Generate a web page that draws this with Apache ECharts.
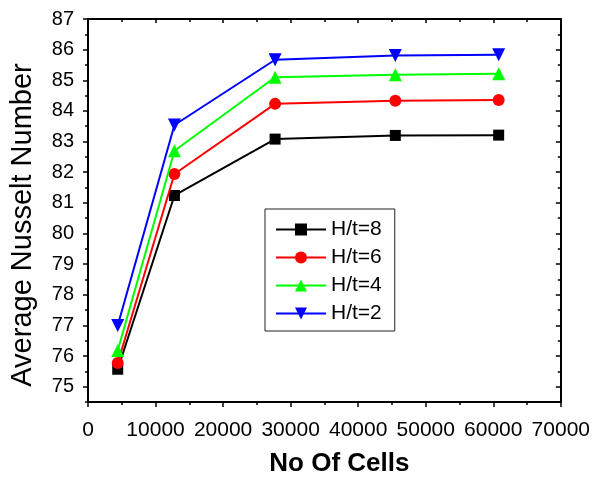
<!DOCTYPE html>
<html>
<head>
<meta charset="utf-8">
<script src="https://cdn.jsdelivr.net/npm/echarts@6/dist/echarts.min.js"></script>
<style>
html,body{margin:0;padding:0;background:#fff;}
#chart{width:593px;height:482px;}
</style>
</head>
<body>
<div id="chart"></div>
<script>
const cells = [4400, 12800, 27700, 45500, 60800];
const seriesNames = ['H/t=8', 'H/t=6', 'H/t=4', 'H/t=2'];
const ht8 = [75.57, 81.24, 83.08, 83.20, 83.21];
const ht6 = [75.77, 81.94, 84.23, 84.33, 84.36];
const ht4 = [76.18, 82.70, 85.10, 85.18, 85.21];
const ht2 = [77.00, 83.54, 85.67, 85.81, 85.83];
const yTickLabels = [75, 76, 77, 78, 79, 80, 81, 82, 83, 84, 85, 86, 87];
const yMinorTicks = [74.5, 75.5, 76.5, 77.5, 78.5, 79.5, 80.5, 81.5, 82.5, 83.5, 84.5, 85.5, 86.5];
const xTickLabels = [0, 10000, 20000, 30000, 40000, 50000, 60000, 70000];

const FONT = 'Liberation Sans, Arial, sans-serif';
const chart = echarts.init(document.getElementById('chart'), null, {renderer: 'canvas'});

function pairs(ys) { return cells.map((x, i) => [x, ys[i]]); }

const yMin = 74.5, yMax = 87;
const lineStyle = {color: '#000', width: 2};

const option = {
  backgroundColor: '#fff',
  animation: false,
  grid: {left: 88, top: 19, right: 30, bottom: 74, containLabel: false},
  legend: {
    orient: 'vertical',
    left: 265, top: 209,
    padding: [10, 13, 7, 10],
    itemWidth: 50, itemHeight: 15, itemGap: 7,
    borderColor: '#222', borderWidth: 1,
    textStyle: {fontFamily: FONT, fontSize: 21, color: '#000'},
    data: seriesNames
  },
  xAxis: [
    {
      type: 'value', position: 'bottom', min: xTickLabels[0], max: xTickLabels[xTickLabels.length - 1], interval: 10000,
      name: 'No Of Cells', nameLocation: 'middle', nameGap: 49,
      nameTextStyle: {fontFamily: FONT, fontSize: 26, fontWeight: 'bold', color: '#000', padding: [0, 0, 0, 30]},
      axisLine: {show: true, lineStyle: lineStyle},
      axisTick: {show: true, inside: false, length: 5, lineStyle: {color: '#000', width: 1.5}},
      minorTick: {show: true, splitNumber: 2, length: 3, lineStyle: {color: '#000', width: 1.5}},
      axisLabel: {fontFamily: FONT, fontSize: 21, color: '#000', margin: 18, formatter: v => String(v)},
      splitLine: {show: false}
    },
    {
      type: 'value', position: 'top', min: 0, max: 70000, interval: 10000,
      axisLine: {show: true, lineStyle: lineStyle},
      axisTick: {show: true, inside: true, length: 4, lineStyle: {color: '#000', width: 1.5}},
      minorTick: {show: true, splitNumber: 2, length: 3, lineStyle: {color: '#000', width: 1.5}},
      axisLabel: {show: false},
      splitLine: {show: false}
    }
  ],
  yAxis: [
    {
      type: 'value', position: 'left', min: yMin, max: yMax,
      name: 'Average Nusselt Number', nameLocation: 'middle', nameGap: 51, nameRotate: 90,
      nameTextStyle: {fontFamily: FONT, fontSize: 29, color: '#000', padding: [0, 29, 0, 0]},
      axisLine: {show: true, lineStyle: lineStyle},
      axisTick: {show: true, inside: false, length: 5, customValues: yTickLabels, lineStyle: {color: '#000', width: 1.5}},
      axisLabel: {fontFamily: FONT, fontSize: 20, color: '#000', margin: 14, customValues: yTickLabels},
      splitLine: {show: false}
    },
    {
      type: 'value', position: 'left', min: yMin, max: yMax,
      axisLine: {show: false},
      axisTick: {show: true, inside: false, length: 3, customValues: yMinorTicks, lineStyle: {color: '#000', width: 1.5}},
      axisLabel: {show: false},
      splitLine: {show: false}
    },
    {
      type: 'value', position: 'right', min: yMin, max: yMax,
      axisLine: {show: true, lineStyle: lineStyle},
      axisTick: {show: true, inside: true, length: 5, customValues: yTickLabels, lineStyle: {color: '#000', width: 1.5}},
      axisLabel: {show: false},
      splitLine: {show: false}
    },
    {
      type: 'value', position: 'right', min: yMin, max: yMax,
      axisLine: {show: false},
      axisTick: {show: true, inside: true, length: 3, customValues: yMinorTicks, lineStyle: {color: '#000', width: 1.5}},
      axisLabel: {show: false},
      splitLine: {show: false}
    }
  ],
  series: [
    {name: seriesNames[0], type: 'line', data: pairs(ht8), symbol: 'rect', symbolSize: 11,
     itemStyle: {color: '#000'}, lineStyle: {color: '#000', width: 2}, z: 4},
    {name: seriesNames[1], type: 'line', data: pairs(ht6), symbol: 'circle', symbolSize: 12,
     itemStyle: {color: '#ff0000'}, lineStyle: {color: '#ff0000', width: 2}, z: 5},
    {name: seriesNames[2], type: 'line', data: pairs(ht4), symbol: 'triangle', symbolSize: 13,
     itemStyle: {color: '#00ff00'}, lineStyle: {color: '#00ff00', width: 2}, z: 6},
    {name: seriesNames[3], type: 'line', data: pairs(ht2), symbol: 'triangle', symbolRotate: 180, symbolSize: 13,
     itemStyle: {color: '#0000ff'}, lineStyle: {color: '#0000ff', width: 2}, z: 7}
  ]
};
chart.setOption(option);
</script>
</body>
</html>
